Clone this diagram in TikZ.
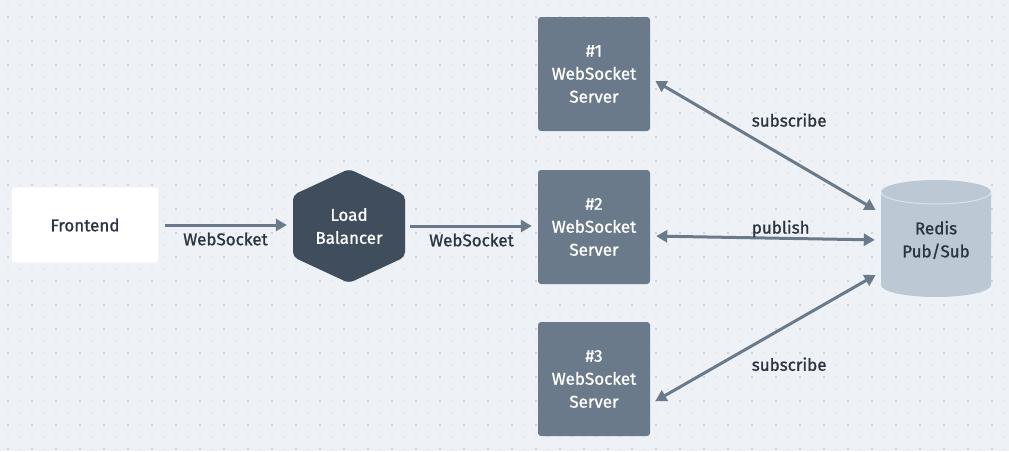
\documentclass[tikz,border=0pt]{standalone}
\usepackage{fontspec}
\setmainfont{Fira Sans}[FakeBold=1.1]
\usetikzlibrary{arrows.meta}
\definecolor{bggray}{HTML}{EEF2F6}
\definecolor{dotlight}{HTML}{E2E8EE}
\definecolor{dotdark}{HTML}{C9D2DC}
\definecolor{inkdark}{HTML}{2B3440}
\definecolor{lbslate}{HTML}{3F4D5C}
\definecolor{srvgray}{HTML}{6B7A8A}
\definecolor{dbblue}{HTML}{BCC8D4}
\definecolor{dbrim}{HTML}{DCE3EA}
\begin{document}
\begin{tikzpicture}[x=1pt,y=-1pt,
	txt/.style={font=\fontsize{17}{23}\selectfont,align=center},
	srvbox/.style={txt,rectangle,rounded corners=3pt,fill=srvgray,text=white,minimum width=112pt,minimum height=114pt},
	conn/.style={draw=srvgray,line width=3pt,-{Triangle[length=11pt,width=12pt]}},
	both/.style={conn,{Triangle[length=11pt,width=12pt]}-{Triangle[length=11pt,width=12pt]}},
	lbl/.style={txt,text=inkdark,inner sep=1pt}]
	% background and dot grid
	\fill[bggray] (0,0) rectangle (1009,451);
	\useasboundingbox (0,0) rectangle (1009,451);
	\foreach \x in {8,20,...,1004}
		\foreach \y in {5,17,...,449}
			\fill[dotlight] (\x-1,\y-1) rectangle ++(2,2);
	\foreach \x in {8,32,...,1004}
		\foreach \y in {17,41,...,449}
			\fill[dotdark] (\x-1,\y-1) rectangle ++(2,2);
	% nodes
	\node[txt,rectangle,rounded corners=2pt,fill=white,text=inkdark,minimum width=146pt,minimum height=75pt] (front) at (85,225) {Frontend};
	\fill[lbslate,rounded corners=5pt] (349,169) -- (405,195) -- (405,257) -- (349,283) -- (293,257) -- (293,195) -- cycle;
	\node[txt,text=white,minimum width=112pt,minimum height=114pt] (lb) at (349,226) {Load\\Balancer};
	\node[srvbox] (ws1) at (594,74) {\#1\\WebSocket\\Server};
	\node[srvbox] (ws2) at (594,227) {\#2\\WebSocket\\Server};
	\node[srvbox] (ws3) at (594,379) {\#3\\WebSocket\\Server};
	% redis cylinder
	\fill[dbblue] (881,192) -- (881,285) arc[start angle=180,end angle=0,x radius=55,y radius=12]
		-- (991,192) arc[start angle=0,end angle=-180,x radius=55,y radius=12] -- cycle;
	\draw[dbrim,line width=1pt] (881,192) arc[start angle=180,end angle=0,x radius=55,y radius=12];
	\node[txt,text=inkdark,minimum width=110pt,minimum height=117pt] (redis) at (936,240) {Redis\\Pub/Sub};
	% connectors
	\draw[conn,shorten <=7pt,shorten >=6pt] (front.east) -- (front.east -| lb.west)
		node[lbl,midway,below=5pt] {WebSocket};
	\draw[conn,shorten <=5pt,shorten >=6pt] (lb.east) -- (lb.east -| ws2.west)
		node[lbl,midway,below=5pt] {WebSocket};
	\draw[both,shorten <=6pt,shorten >=6pt] ([yshift=-4pt]ws1.east) -- ([yshift=27pt]redis.west)
		node[lbl,pos=.43,anchor=west,yshift=16pt] {subscribe};
	\draw[both,shorten <=6pt,shorten >=6pt] ([yshift=-9pt]ws2.east) -- ([yshift=0pt]redis.west)
		node[lbl,pos=.43,anchor=west,yshift=9pt] {publish};
	\draw[both,shorten <=6pt,shorten >=6pt] ([yshift=-25pt]ws3.east) -- ([yshift=-32pt]redis.west)
		node[lbl,pos=.43,anchor=west,yshift=-17pt] {subscribe};
\end{tikzpicture}
\end{document}
